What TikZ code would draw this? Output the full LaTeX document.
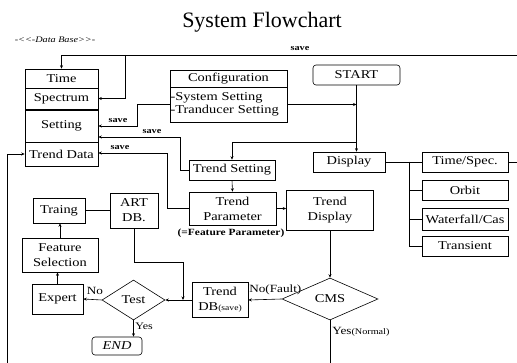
\documentclass[tikz,border=0pt]{standalone}
\usepackage{fontspec}
\setmainfont{Liberation Serif}[FakeStretch=1.2]
\newfontfamily\titlefont{Liberation Serif}
\usetikzlibrary{shapes.geometric,arrows.meta}
\begin{document}
\begin{tikzpicture}[x=1pt,y=-1pt,
  line width=0.6pt,
  box/.style={draw,line width=0.6pt,inner sep=0.5pt,font=\fontsize{12}{15}\selectfont,align=center},
  rbox/.style={box,rounded corners=3pt},
  dia/.style={draw,diamond,aspect=1.5,inner sep=0pt,font=\fontsize{12}{14}\selectfont},
  arr/.style={-{Stealth[length=3.5pt,width=3pt]}},
  savelbl/.style={font=\fontsize{8.5}{9}\selectfont\bfseries,inner sep=0pt},
  lbl/.style={font=\fontsize{11}{12}\selectfont,inner sep=0pt}]
\useasboundingbox (0,0) rectangle (517,363);
% title
\node[font=\titlefont\fontsize{22}{24}\selectfont,inner sep=0pt] (title) at (262,22) {System Flowchart};
\node[font=\fontsize{8.5}{9}\selectfont\itshape,inner sep=0pt] (db) at (55,40) {-<\kern0pt<-Data Base>\kern0pt>-};
% database stack
\node[box,minimum width=73,minimum height=19] (time) at (61.5,78.5) {Time};
\node[box,minimum width=73,minimum height=21] (spec) at (61.5,98.5) {Spectrum};
\node[box,minimum width=73,minimum height=32] (sett) at (61.5,126) {Setting};
\node[box,minimum width=73,minimum height=24] (tdata) at (61.5,154) {Trend Data};
% configuration
\node[box,minimum width=117,minimum height=17] (cfg) at (228.5,78.5) {Configuration};
\node[box,minimum width=117,minimum height=35,text width=116,align=left] (cfgset) at (228.5,104.5) {-System Setting\\[-1.5pt]-Tranducer Setting};
\node[rbox,minimum width=87,minimum height=20] (start) at (356.5,75) {START};
\node[box,minimum width=72,minimum height=20] (display) at (349,162) {Display};
\node[box,minimum width=86,minimum height=20] (tset) at (232,170) {Trend Setting};
\node[box,minimum width=87,minimum height=33] (tpar) at (232.5,208.5) {Trend\\Parameter};
\node[font=\fontsize{9.5}{10}\selectfont\bfseries,inner sep=0pt] (featp) at (231,233) {(=Feature Parameter)};
\node[box,minimum width=87,minimum height=40] (tdisp) at (330,210) {Trend\\Display};
% display options
\node[box,minimum width=86,minimum height=20] (timespec) at (465,162) {Time/Spec.};
\node[box,minimum width=86,minimum height=20] (orbit) at (465,190) {Orbit};
\node[box,minimum width=86,minimum height=22] (water) at (465,219) {Waterfall/Cas};
\node[box,minimum width=86,minimum height=20] (trans) at (465,246) {Transient};
% ART
\node[box,minimum width=48,minimum height=35] (artdb) at (134,210.5) {ART\\DB.};
\node[box,minimum width=52,minimum height=25] (traing) at (59,210.5) {Traing};
\node[box,minimum width=76,minimum height=34] (feat) at (60,255) {Feature\\Selection};
\node[box,minimum width=51,minimum height=30] (expert) at (57.5,299) {Expert};
\node[dia,minimum width=63,minimum height=40] (test) at (133.5,300) {Test};
\node[rbox,minimum width=50,minimum height=18,font=\fontsize{12}{13}\selectfont\itshape] (endn) at (117,346) {END};
\node[box,minimum width=56,minimum height=35] (tdb) at (220,300) {Trend\\DB{\fontsize{8}{9}\selectfont(save)}};
\node[dia,minimum width=96,minimum height=42] (cms) at (330,299) {CMS};
% coordinates
\coordinate (topR) at (517,55);
\coordinate (j1) at (125,55);
\coordinate (s1) at (137,126);
\coordinate (s2) at (180,137);
\coordinate (s3) at (167,153);
\coordinate (b1) at (356.5,142);
\coordinate (k1) at (183,262);
\coordinate (j2) at (183,300);
\coordinate (bus) at (409,162);
\coordinate (rt) at (517,162);
\coordinate (lb) at (7,363);
\coordinate (cmsdown) at (330,363);
% connectors
\draw[arr] (topR) -- (topR -| time.north) -- (time.north);
\node[savelbl] (sv0) at (300,49) {save};
\draw[arr] (j1) |- (spec.east);
\draw[arr] (cfgset.west) -| (s1) -- (s1 -| sett.east);
\node[savelbl] (sv1) at (118,121) {save};
\draw[arr] (tset.west) -| (s2) -- (s2 -| sett.east);
\node[savelbl] (sv2) at (152,132) {save};
\draw[arr] (tpar.west) -| (s3) -- (s3 -| tdata.east);
\node[savelbl] (sv3) at (120,148) {save};
\draw[arr] (cfgset.east) -- (cfgset.east -| start.south);
\draw[arr] (start.south) -- (start.south |- display.north);
\draw[arr] (b1) -| (tset.north);
\draw[arr] (tset.south) -- (tpar.north);
\draw[arr] (tpar.east) -- (tpar.east -| tdisp.west);
\draw[arr] (tdisp.south) -- (cms.north);
\draw[arr] (cms.west) -- (tdb.east);
\node[lbl,anchor=south west] (nof) at (249,295) {No(Fault)};
\draw (cms.south) -- (cmsdown);
\node[lbl,anchor=west] (yesn) at (332,332) {Yes{\fontsize{8.5}{9}\selectfont(Normal)}};
\draw[arr] (tdb.west) -- (test.east);
\draw[arr] (artdb.south) |- (k1) -- (j2);
\draw (traing.east) -- (traing.east -| artdb.west);
\draw[arr] (feat.north) -- (feat.north |- traing.south);
\draw[arr] (expert.north) -- (expert.north |- feat.south);
\draw[arr] (test.west) -- (expert.east);
\node[font=\fontsize{11}{12}\selectfont,inner sep=0pt] (nol) at (95,291) {No};
\draw[arr] (test.south) -- (test.south |- endn.north);
\node[font=\fontsize{10}{11}\selectfont,inner sep=0pt,anchor=west] (yesl) at (135,326) {Yes};
\draw (display.east) -- (timespec.west);
\draw (bus) |- (orbit.west);
\draw (bus) |- (water.west);
\draw (bus) |- (trans.west);
\draw (timespec.east) -- (rt);
\draw[arr] (lb) |- (tdata.west);
\end{tikzpicture}
\end{document}
